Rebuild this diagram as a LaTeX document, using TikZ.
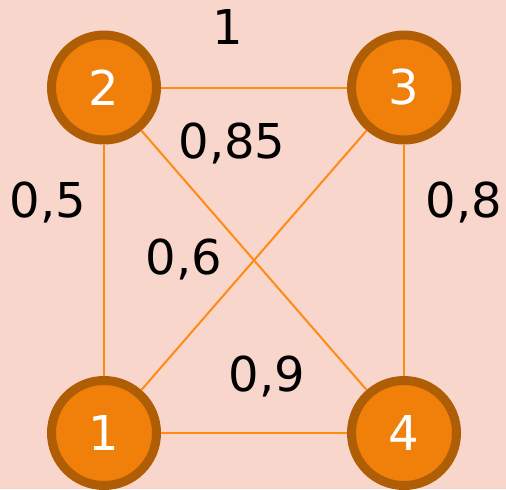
\documentclass[tikz,border=0pt]{standalone}
\usepackage{fontspec}
\setmainfont{DejaVu Sans}
\definecolor{bg}{HTML}{F9D6CB}
\definecolor{nodefill}{HTML}{F0800A}
\definecolor{nodeborder}{HTML}{B05E06}
\definecolor{edgecol}{HTML}{FF8A14}
\begin{document}
\begin{tikzpicture}[x=0.75pt,y=-0.75pt,
  vertex/.style={circle, fill=nodefill, draw=nodeborder, line width=6.75pt, minimum size=78.75pt, inner sep=0pt, text=white, font=\fontsize{36}{40}\selectfont},
  edge/.style={draw=edgecol, line width=1.5pt},
  wlabel/.style={anchor=base, inner sep=0pt, text=black, font=\fontsize{36}{40}\selectfont}]
\fill[bg] (0,0) rectangle (506,489);
\useasboundingbox (0,0) rectangle (506,489);
\node[vertex] (n2) at (104,87.5) {2};
\node[vertex] (n3) at (404,87.5) {3};
\node[vertex] (n1) at (104,433) {1};
\node[vertex] (n4) at (404,433) {4};
\begin{scope}[on background layer/.style={}]
\end{scope}
\path[edge] (n2) -- (n3);
\path[edge] (n2) -- (n1);
\path[edge] (n3) -- (n4);
\path[edge] (n1) -- (n4);
\path[edge] (n2) -- (n4);
\path[edge] (n3) -- (n1);
\node[wlabel] (l23) at (228,44) {1};
\node[wlabel] (l21) at (48,217) {0,5};
\node[wlabel] (l34) at (464,217) {0,8};
\node[wlabel] (l24) at (232,158) {0,85};
\node[wlabel] (l31) at (184,274) {0,6};
\node[wlabel] (l14) at (267,391) {0,9};
\end{tikzpicture}
\end{document}
